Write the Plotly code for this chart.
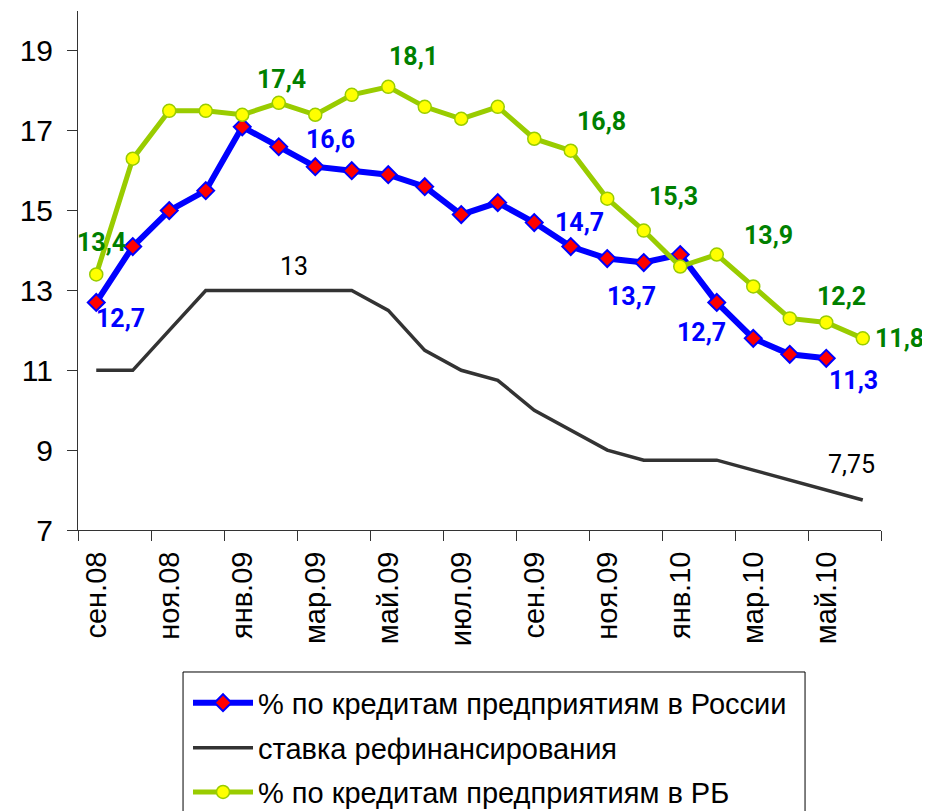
import plotly.graph_objects as go

months = [
    "сен.08", "окт.08", "ноя.08", "дек.08", "янв.09", "фев.09", "мар.09", "апр.09",
    "май.09", "июн.09", "июл.09", "авг.09", "сен.09", "окт.09", "ноя.09", "дек.09",
    "янв.10", "фев.10", "мар.10", "апр.10", "май.10", "июн.10",
]
russia = [12.7, 14.1, 15.0, 15.5, 17.1, 16.6, 16.1, 16.0, 15.9, 15.6, 14.9,
          15.2, 14.7, 14.1, 13.8, 13.7, 13.9, 12.7, 11.8, 11.4, 11.3]
refi = [11, 11, 12, 13, 13, 13, 13, 13, 12.5, 11.5, 11, 10.75, 10, 9.5, 9,
        8.75, 8.75, 8.75, 8.5, 8.25, 8, 7.75]
rb = [13.4, 16.3, 17.5, 17.5, 17.4, 17.7, 17.4, 17.9, 18.1, 17.6, 17.3, 17.6,
      16.8, 16.5, 15.3, 14.5, 13.6, 13.9, 13.1, 12.3, 12.2, 11.8]

# which points get a value label, and the pixel offset of that label
russia_labels = {0: (24, -16), 5: (52, 7), 12: (45, 0), 15: (-12, -34), 17: (-15, -30), 20: (27, -22)}
refi_labels = {5: (15, 24), 21: (-11, 36)}
rb_labels = {0: (5, 32), 4: (39, 35), 8: (25, 30), 12: (67, 17), 14: (66, 2), 17: (52, 19), 20: (15, 26), 21: (37, 0)}

BLUE = "#0000FF"
GREEN_LINE = "#99CC00"
GREEN_TEXT = "#008000"
GREY = "#333333"


def fmt(v):
    return f"{v:g}".replace(".", ",")


x_all = list(range(len(months)))

fig = go.Figure()

fig.add_trace(go.Scatter(
    x=x_all[:len(refi)], y=refi, mode="lines",
    name="ставка рефинансирования",
    line=dict(color=GREY, width=3.5),
    legend="legend2",
))
fig.add_trace(go.Scatter(
    x=x_all[:len(russia)], y=russia, mode="lines+markers",
    name="% по кредитам предприятиям в России",
    line=dict(color=BLUE, width=6),
    marker=dict(symbol="diamond", size=13, color="#FF0000", line=dict(color=BLUE, width=2)),
    legend="legend",
))
fig.add_trace(go.Scatter(
    x=x_all[:len(rb)], y=rb, mode="lines+markers",
    name="% по кредитам предприятиям в РБ",
    line=dict(color=GREEN_LINE, width=5),
    marker=dict(symbol="circle", size=13, color="#FFFF00", line=dict(color=GREEN_LINE, width=1.5)),
    legend="legend3",
))

annotations = []
for series, labels, color, bold in [
    (russia, russia_labels, BLUE, True),
    (refi, refi_labels, "black", False),
    (rb, rb_labels, GREEN_TEXT, True),
]:
    for i, (dx, dy) in labels.items():
        annotations.append(dict(
            x=i, y=series[i], text=fmt(series[i]), showarrow=False,
            xshift=dx, yshift=dy,
            font=dict(family="Roboto", size=25, color=color,
                      weight="bold" if bold else "normal"),
        ))

legend_common = dict(
    orientation="v", xanchor="left", yanchor="middle",
    bgcolor="rgba(0,0,0,0)", borderwidth=0, itemwidth=60,
    font=dict(family="Liberation Sans", size=29, color="black", weight="normal"),
    x=0.137,
)

# the page body adds an 8px offset, so margins are trimmed on the left/top
fig.update_layout(
    width=930, height=811, autosize=False,
    margin=dict(l=70, r=57, t=3, b=289, autoexpand=False),
    paper_bgcolor="white", plot_bgcolor="white",
    showlegend=True,
    xaxis=dict(
        range=[-0.5, 21.5], automargin=False,
        tickvals=x_all[::2], ticktext=months[::2],
        tickangle=-90, ticks="",
        tickfont=dict(family="Liberation Sans", size=29, color="black"),
        ticklabelstandoff=9,
        showline=True, linecolor=GREY, linewidth=1,
        showgrid=False, zeroline=False,
        minor=dict(tickvals=[i - 0.5 for i in range(0, len(months) + 1, 2)],
                   ticks="outside", ticklen=10, tickcolor=GREY, tickwidth=1),
    ),
    yaxis=dict(
        range=[7, 20], automargin=False,
        tickvals=[7, 9, 11, 13, 15, 17, 19],
        ticks="outside", ticklen=10, tickcolor=GREY,
        tickfont=dict(family="Liberation Sans", size=30, color="black"),
        ticklabelstandoff=8,
        showline=True, linecolor=GREY, linewidth=1,
        showgrid=False, zeroline=False,
    ),
    legend=dict(legend_common, y=-0.333),
    legend2=dict(legend_common, y=-0.42),
    legend3=dict(legend_common, y=-0.505),
    annotations=annotations,
    shapes=[dict(type="rect", xref="paper", yref="paper",
                 x0=0.1308, x1=0.9054, y0=-0.2736, y1=-0.58,
                 line=dict(color="black", width=1), fillcolor="rgba(0,0,0,0)")],
)

fig.write_html("out.html")
